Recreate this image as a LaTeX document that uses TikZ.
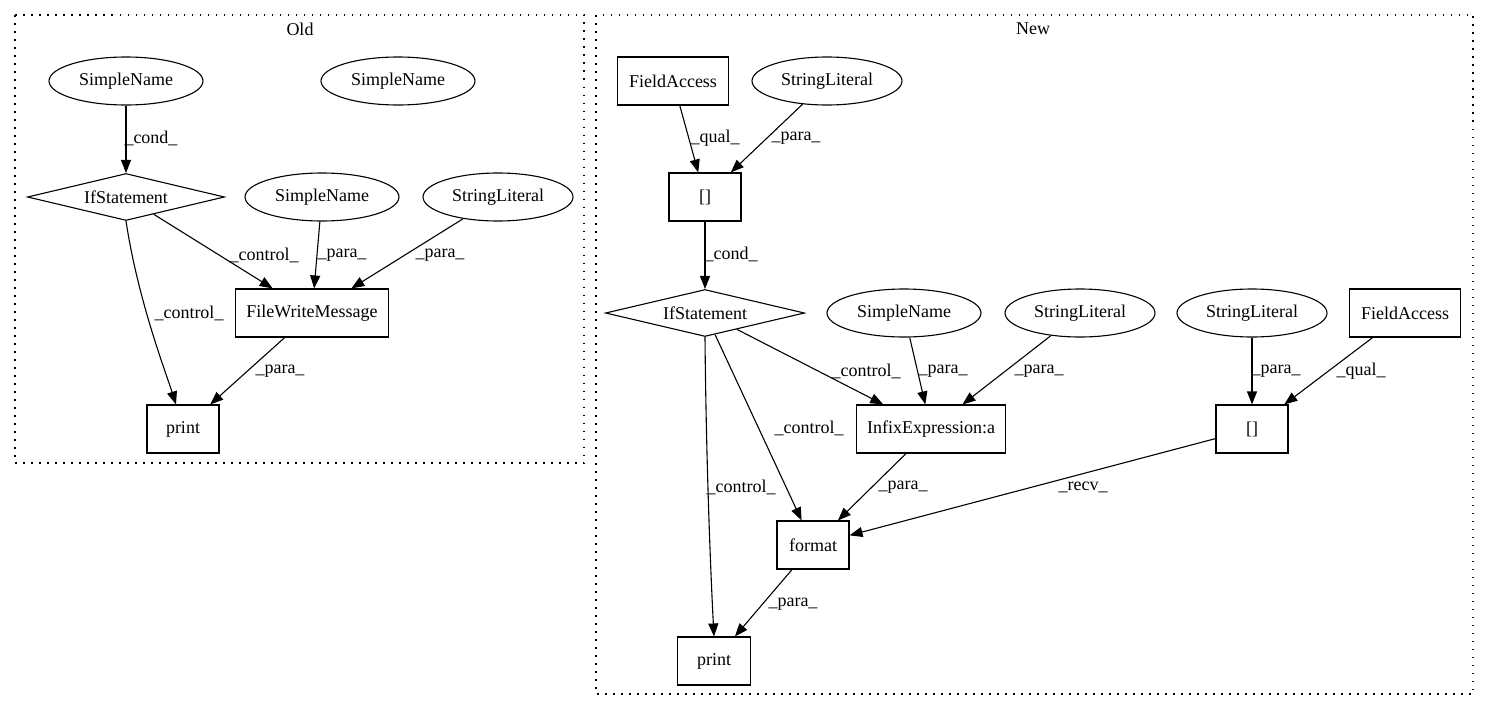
\documentclass[tikz,border=0pt]{standalone}
\usepackage{fontspec}
\setmainfont{Liberation Serif}
\usetikzlibrary{shapes.geometric,arrows.meta,calc}
\begin{document}
\begin{tikzpicture}[x=1pt,y=1pt,
  every node/.style={font=\fontsize{18}{21}\selectfont, inner sep=0pt},
  ell/.style={draw, ellipse, line width=1.1pt, minimum height=48pt, minimum width=154pt},
  box/.style={draw, rectangle, line width=1.1pt, minimum height=48pt},
  dia/.style={draw, diamond, line width=1.1pt, minimum width=197pt, minimum height=47pt, aspect=4},
  edge/.style={line width=1.1pt, -{Triangle[length=13pt,width=10pt]}},
  lbl/.style={},
  cluster/.style={draw, line width=1.2pt, dash pattern=on 1.5pt off 6.5pt}
]
\useasboundingbox (0,0) rectangle (1489,-712);
% clusters
\draw[cluster] (15,-15) rectangle (584,-463);
\draw[cluster] (596,-15) rectangle (1473,-694);
\node (toldt) at (300,-29) {Old};
\node (tnew) at (1033,-29) {New};

% Old nodes
\node[ell] (osn1) at (126,-81) {SimpleName};
\node[ell] (osn2) at (398,-81) {SimpleName};
\node[dia] (oif) at (126,-197) {IfStatement};
\node[ell] (osn3) at (322,-197) {SimpleName};
\node[ell, minimum width=150pt] (osl) at (498,-197) {StringLiteral};
\node[box, minimum width=153pt] (ofwm) at (312,-313) {FileWriteMessage};
\node[box, minimum width=72pt] (oprint) at (183,-429) {print};

% Old edges
\draw[edge] (osn1) -- (oif);
\draw[edge] (oif) -- (ofwm);
\draw[edge] (oif.south) .. controls (138,-300) and (165,-370) .. ($(oprint.north)+(-7,0)$);
\draw[edge] (osn3) -- (ofwm);
\draw[edge] (osl) -- (ofwm);
\draw[edge] (ofwm) -- (oprint);

\node[lbl] (l1) at (151,-138) {\_cond\_};
\node[lbl] (l2) at (264,-255) {\_control\_};
\node[lbl] (l3) at (189,-313) {\_control\_};
\node[lbl] (l4) at (342,-255) {\_para\_};
\node[lbl] (l5) at (440,-255) {\_para\_};
\node[lbl] (l6) at (280,-371) {\_para\_};

% New nodes
\node[box, minimum width=111pt] (nfa1) at (673,-81) {FieldAccess};
\node[ell, minimum width=150pt] (nsl1) at (827,-81) {StringLiteral};
\node[box, minimum width=72pt] (nidx1) at (705,-197) {[]};
\node[dia, minimum width=199pt] (nif) at (705,-313) {IfStatement};
\node[ell] (nsn) at (904,-313) {SimpleName};
\node[ell, minimum width=150pt] (nsl2) at (1080,-313) {StringLiteral};
\node[ell, minimum width=150pt] (nsl3) at (1252,-313) {StringLiteral};
\node[box, minimum width=111pt] (nfa2) at (1405,-313) {FieldAccess};
\node[box, minimum width=149pt] (ninf) at (931,-429) {InfixExpression:a};
\node[box, minimum width=72pt] (nidx2) at (1252,-429) {[]};
\node[box, minimum width=72pt] (nfmt) at (813,-545) {format};
\node[box, minimum width=73pt] (nprint) at (714,-661) {print};

% New edges
\draw[edge] (nfa1) -- (nidx1);
\draw[edge] (nsl1) -- (nidx1);
\draw[edge] (nidx1) -- (nif);
\draw[edge] (nif) -- (ninf);
\draw[edge] (nif) -- (nfmt);
\draw[edge] (nif.south) .. controls (706,-450) and (710,-560) .. (nprint.north);
\draw[edge] (nsn) -- (ninf);
\draw[edge] (nsl2) -- (ninf);
\draw[edge] (nsl3) -- (nidx2);
\draw[edge] (nfa2) -- (nidx2);
\draw[edge] (ninf) -- (nfmt);
\draw[edge] (nidx2) -- (nfmt);
\draw[edge] (nfmt) -- (nprint);

\node[lbl] (m1) at (715,-138) {\_qual\_};
\node[lbl] (m2) at (796,-138) {\_para\_};
\node[lbl] (m3) at (731,-254) {\_cond\_};
\node[lbl] (m4) at (866,-371) {\_control\_};
\node[lbl] (m5) at (809,-428) {\_control\_};
\node[lbl] (m6) at (741,-487) {\_control\_};
\node[lbl] (m7) at (943,-371) {\_para\_};
\node[lbl] (m8) at (1039,-371) {\_para\_};
\node[lbl] (m9) at (1276,-371) {\_para\_};
\node[lbl] (m10) at (1361,-371) {\_qual\_};
\node[lbl] (m11) at (903,-487) {\_para\_};
\node[lbl] (m12) at (1083,-487) {\_recv\_};
\node[lbl] (m13) at (793,-604) {\_para\_};
\end{tikzpicture}
\end{document}
